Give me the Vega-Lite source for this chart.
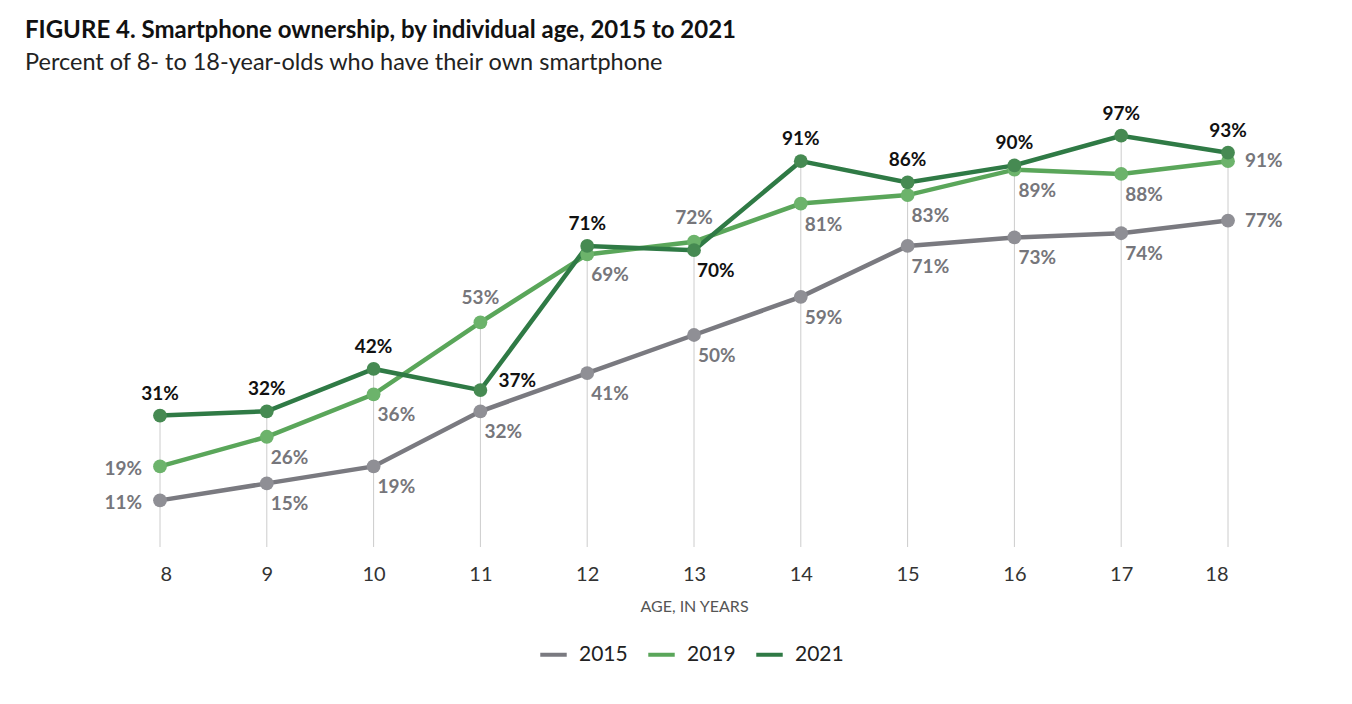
{
  "$schema": "https://vega.github.io/schema/vega-lite/v6.json",
  "autosize": "none",
  "width": 1068,
  "height": 424,
  "padding": {"left": 160, "top": 123, "right": 124, "bottom": 157},
  "background": "white",
  "title": {
    "text": "FIGURE 4. Smartphone ownership, by individual age, 2015 to 2021",
    "subtitle": "Percent of 8- to 18-year-olds who have their own smartphone",
    "anchor": "start",
    "frame": "group",
    "dx": -135,
    "offset": 30,
    "font": "Lato",
    "fontSize": 24,
    "fontWeight": "bold",
    "color": "#111111",
    "subtitleFont": "Lato",
    "subtitleFontSize": 23.5,
    "subtitleColor": "#222222",
    "subtitlePadding": 8
  },
  "data": {
    "values": [
      {"age": 8, "year": "2015", "value": 0.11},
      {"age": 9, "year": "2015", "value": 0.15},
      {"age": 10, "year": "2015", "value": 0.19},
      {"age": 11, "year": "2015", "value": 0.32},
      {"age": 12, "year": "2015", "value": 0.41},
      {"age": 13, "year": "2015", "value": 0.50},
      {"age": 14, "year": "2015", "value": 0.59},
      {"age": 15, "year": "2015", "value": 0.71},
      {"age": 16, "year": "2015", "value": 0.73},
      {"age": 17, "year": "2015", "value": 0.74},
      {"age": 18, "year": "2015", "value": 0.77},
      {"age": 8, "year": "2019", "value": 0.19},
      {"age": 9, "year": "2019", "value": 0.26},
      {"age": 10, "year": "2019", "value": 0.36},
      {"age": 11, "year": "2019", "value": 0.53},
      {"age": 12, "year": "2019", "value": 0.69},
      {"age": 13, "year": "2019", "value": 0.72},
      {"age": 14, "year": "2019", "value": 0.81},
      {"age": 15, "year": "2019", "value": 0.83},
      {"age": 16, "year": "2019", "value": 0.89},
      {"age": 17, "year": "2019", "value": 0.88},
      {"age": 18, "year": "2019", "value": 0.91},
      {"age": 8, "year": "2021", "value": 0.31},
      {"age": 9, "year": "2021", "value": 0.32},
      {"age": 10, "year": "2021", "value": 0.42},
      {"age": 11, "year": "2021", "value": 0.37},
      {"age": 12, "year": "2021", "value": 0.71},
      {"age": 13, "year": "2021", "value": 0.70},
      {"age": 14, "year": "2021", "value": 0.91},
      {"age": 15, "year": "2021", "value": 0.86},
      {"age": 16, "year": "2021", "value": 0.90},
      {"age": 17, "year": "2021", "value": 0.97},
      {"age": 18, "year": "2021", "value": 0.93}
    ]
  },
  "encoding": {
    "x": {
      "field": "age",
      "type": "quantitative",
      "scale": {"domain": [8, 18], "nice": false, "zero": false},
      "axis": {
        "values": [8, 9, 10, 11, 12, 13, 14, 15, 16, 17, 18],
        "format": "d",
        "grid": false,
        "domain": false,
        "ticks": false,
        "labelPadding": 17,
        "labelFont": "Lato",
        "labelFontSize": 20,
        "labelColor": "#333333",
        "title": "AGE, IN YEARS",
        "titleFont": "Lato",
        "titleFontSize": 16,
        "titleFontWeight": "normal",
        "titleColor": "#555555",
        "titlePadding": 14
      }
    },
    "y": {
      "field": "value",
      "type": "quantitative",
      "scale": {"domain": [0, 1], "nice": false},
      "axis": null
    }
  },
  "layer": [
    {
      "transform": [{"aggregate": [{"op": "max", "field": "value", "as": "value"}], "groupby": ["age"]}],
      "mark": {"type": "rule", "color": "#cccccc", "strokeWidth": 1},
      "encoding": {"y2": {"datum": 0}}
    },
    {
      "mark": {"type": "line", "strokeWidth": 4.5},
      "encoding": {
        "color": {
          "field": "year",
          "type": "nominal",
          "scale": {"domain": ["2015", "2019", "2021"], "range": ["#7a7a80", "#5aa65a", "#2f7a45"]},
          "legend": {
            "title": null,
            "orient": "none",
            "direction": "horizontal",
            "legendX": 378,
            "legendY": 516,
            "symbolType": "stroke",
            "symbolStrokeWidth": 4,
            "symbolSize": 700,
            "labelFont": "Lato",
            "labelFontSize": 21,
            "labelColor": "#222222",
            "columnPadding": 12,
            "labelOffset": 10
          }
        }
      }
    },
    {
      "mark": {"type": "point", "filled": true, "size": 190, "opacity": 1},
      "encoding": {
        "fill": {
          "field": "year",
          "type": "nominal",
          "scale": {"domain": ["2015", "2019", "2021"], "range": ["#8f8f95", "#6cb36b", "#468a52"]},
          "legend": null
        }
      }
    },
    {
      "transform": [{"filter": "datum.year == '2021' && datum.age != 11 && datum.age != 13"}],
      "mark": {"type": "text", "font": "Lato", "fontSize": 19, "fontWeight": "bold", "color": "#111111", "dy": -22},
      "encoding": {"text": {"field": "value", "format": ".0%"}}
    },
    {
      "transform": [{"filter": "datum.year == '2021' && datum.age == 11"}],
      "mark": {"type": "text", "font": "Lato", "fontSize": 19, "fontWeight": "bold", "color": "#111111", "align": "left", "dx": 18, "dy": -9},
      "encoding": {"text": {"field": "value", "format": ".0%"}}
    },
    {
      "transform": [{"filter": "datum.year == '2021' && datum.age == 13"}],
      "mark": {"type": "text", "font": "Lato", "fontSize": 19, "fontWeight": "bold", "color": "#111111", "align": "left", "dx": 3, "dy": 21},
      "encoding": {"text": {"field": "value", "format": ".0%"}}
    },
    {
      "transform": [{"filter": "(datum.year == '2015' || datum.year == '2019') && datum.age > 8 && datum.age < 18 && !(datum.year == '2019' && (datum.age == 11 || datum.age == 13))"}],
      "mark": {"type": "text", "font": "Lato", "fontSize": 19, "fontWeight": "bold", "color": "#76767b", "align": "left", "dx": 4, "dy": 21},
      "encoding": {"text": {"field": "value", "format": ".0%"}}
    },
    {
      "transform": [{"filter": "datum.year == '2019' && (datum.age == 11 || datum.age == 13)"}],
      "mark": {"type": "text", "font": "Lato", "fontSize": 19, "fontWeight": "bold", "color": "#76767b", "dy": -24},
      "encoding": {"text": {"field": "value", "format": ".0%"}}
    },
    {
      "transform": [{"filter": "datum.year != '2021' && datum.age == 8"}],
      "mark": {"type": "text", "font": "Lato", "fontSize": 19, "fontWeight": "bold", "color": "#76767b", "align": "right", "dx": -18, "dy": 3},
      "encoding": {"text": {"field": "value", "format": ".0%"}}
    },
    {
      "transform": [{"filter": "datum.year != '2021' && datum.age == 18"}],
      "mark": {"type": "text", "font": "Lato", "fontSize": 19, "fontWeight": "bold", "color": "#76767b", "align": "left", "dx": 17, "dy": 0},
      "encoding": {"text": {"field": "value", "format": ".0%"}}
    }
  ],
  "config": {
    "view": {"stroke": null}
  }
}
